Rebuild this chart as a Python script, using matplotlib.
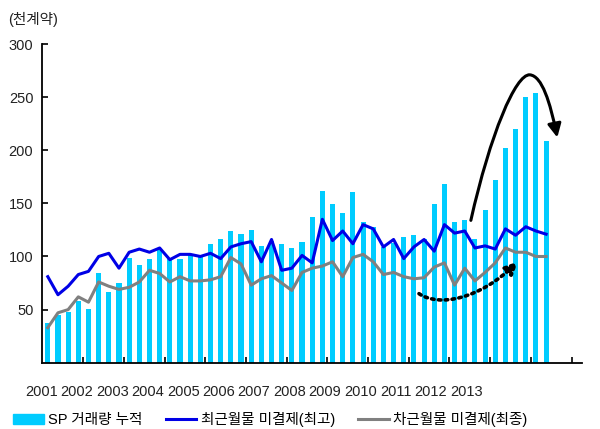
import matplotlib
matplotlib.use("Agg")
import matplotlib.pyplot as plt
import numpy as np
from matplotlib.path import Path
from matplotlib.patches import FancyArrowPatch, Patch
from matplotlib.lines import Line2D

plt.rcParams['font.family'] = ['Liberation Sans', 'Noto Sans CJK KR', 'DejaVu Sans']

# quarterly values, 2001 Q1 .. 2013 Q2
sp_volume = [37, 45, 48, 58, 51, 84, 67, 75, 99, 92, 98, 106, 98, 98,
             101, 100, 112, 116, 124, 121, 125, 110, 115, 112, 108, 114,
             137, 162, 149, 141, 161, 132, 128, 109, 113, 118, 120, 116,
             149, 168, 132, 134, 116, 144, 172, 202, 220, 250, 254, 209]
front_oi = [81, 64, 72, 83, 86, 100, 103, 89, 104, 107, 104, 108, 97, 102,
            102, 100, 103, 98, 109, 112, 114, 95, 116, 87, 89, 101,
            94, 135, 115, 124, 112, 130, 126, 109, 116, 98, 109, 116,
            105, 130, 122, 124, 108, 110, 107, 126, 120, 128, 124, 121]
second_oi = [33, 47, 50, 62, 57, 76, 72, 69, 71, 76, 87, 84, 76, 81,
             77, 77, 78, 81, 99, 93, 73, 79, 82, 75, 68, 85,
             89, 91, 95, 81, 99, 102, 95, 83, 85, 81, 79, 80,
             90, 94, 73, 89, 77, 85, 94, 108, 104, 104, 100, 100]
years = ["2001", "2002", "2003", "2004", "2005", "2006", "2007",
         "2008", "2009", "2010", "2011", "2012", "2013"]

labels = ["SP 거래량 누적", "최근월물 미결제(최고)", "차근월물 미결제(최종)"]
bar_color = "#00CCFF"
blue = "#0000E6"
gray = "#808080"

fig = plt.figure(figsize=(6.0, 4.29), dpi=100)
ax = fig.add_axes([0.0695, 0.1545, 0.90, 0.7429])

x = np.arange(len(sp_volume))
ax.bar(x, sp_volume, width=0.5, color=bar_color, zorder=1)
ax.plot(x, second_oi, color=gray, lw=2.2, zorder=2)
ax.plot(x, front_oi, color=blue, lw=2.2, zorder=3)

ax.set_xlim(-0.5, 52.5)
ax.set_ylim(0, 300)

# year labels (not centred on the tick marks, as in the original)
ax.set_xticks(-0.6 + 3.48 * np.arange(len(years)))
ax.set_xticklabels(years)
ax.set_xticks(np.arange(3.5, 52, 4), minor=True)
ax.tick_params(axis='x', which='major', length=0, pad=16, labelsize=10.5, labelcolor="#222222")
ax.tick_params(axis='x', which='minor', length=4, direction='in', width=1.2)

ax.set_yticks([50, 100, 150, 200, 250, 300])
ax.tick_params(axis='y', length=4, direction='in', width=1.2, labelsize=10.5,
               labelcolor="#222222", pad=6)

for s in ['top', 'right']:
    ax.spines[s].set_visible(False)
for s in ['left', 'bottom']:
    ax.spines[s].set_linewidth(1.3)

# big solid arrow over the recent surge
verts = [(41.6, 134), (43.5, 215), (46.0, 272), (47.4, 271),
         (48.6, 270), (49.4, 245), (50.1, 212)]
codes = [Path.MOVETO] + [Path.CURVE4] * 6
arr = FancyArrowPatch(path=Path(verts, codes), arrowstyle='-|>', mutation_scale=20,
                      color='black', lw=2.2, zorder=5)
ax.add_patch(arr)

# dotted arrow under the second-month line
verts2 = [(36.5, 65), (38.5, 52), (42.5, 60), (46.2, 95)]
codes2 = [Path.MOVETO] + [Path.CURVE4] * 3
arr2 = FancyArrowPatch(path=Path(verts2, codes2), arrowstyle='-|>', mutation_scale=18,
                       color='black', lw=2.6, linestyle=(0, (0.7, 1.2)), zorder=5)
ax.add_patch(arr2)

fig.text(0.013, 0.955, "(천계약)", fontsize=10.5, color="#222222", va='center')

handles = [Patch(color=bar_color), Line2D([], [], color=blue, lw=2.2),
           Line2D([], [], color=gray, lw=2.2)]
fig.legend(handles, labels, ncol=3, loc='center left', bbox_to_anchor=(0.012, 0.022),
           frameon=False, fontsize=10.5, handlelength=2.1, handletextpad=0.3,
           columnspacing=1.6, borderaxespad=0)

fig.savefig("out.png", dpi=100)
